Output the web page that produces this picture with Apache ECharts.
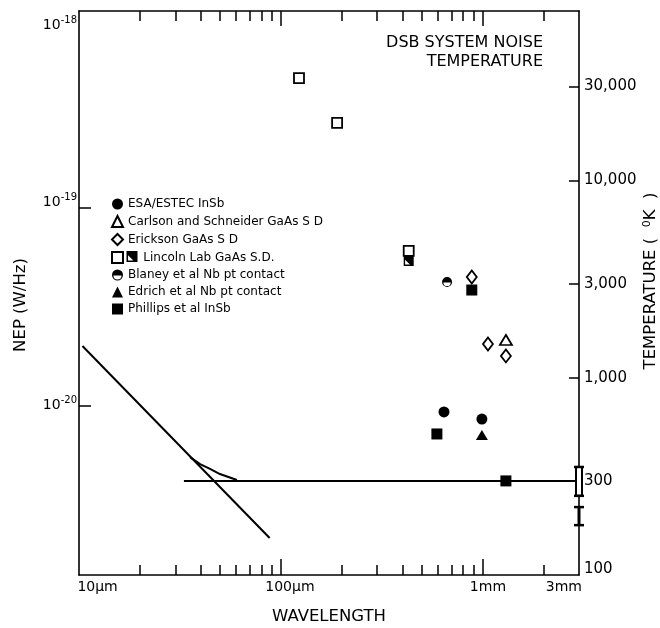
<!DOCTYPE html>
<html><head><meta charset="utf-8">
<script src="https://cdn.jsdelivr.net/npm/echarts@6/dist/echarts.min.js"></script>
<style>html,body{margin:0;padding:0;background:#fff}#c{width:660px;height:628px}</style>
</head><body><div id="c"></div>
<script>
// [wavelength (µm), DSB system noise temperature (K)]
const esa        = [[643, 671], [991, 618]];
const carlson    = [[1303, 1555]];
const erickson   = [[883, 3245], [1062, 1483], [1303, 1291]];
const lincolnOpen= [[123, 33100], [190, 19600], [430, 4400]];
const lincolnHalf= [[430, 3910]];
const blaney     = [[666, 3060]];
const edrich     = [[991, 513]];
const phillips   = [[593, 519], [883, 2787], [1303, 300]];
// curves [wavelength (µm), temperature (K)]
const quantumLimit = [[10.4, 1450], [88, 154]];
const floorLine    = [[33.1, 300], [3000, 300]];
const kneeCurve    = [[35.5, 396], [39.8, 365], [44.6, 345], [49.9, 325], [60.6, 303]];
// error bars at the right edge [wavelength, low K, high K, kind]
const errorBars  = [[3000, 252, 353, 0], [3000, 179, 221, 1]];
// axis ticks
const wlLabelValues = [10, 100, 1000, 3000];
const wlLabelText   = ['10\u03bcm', '100\u03bcm', '1mm', '3mm'];
const wlMajorTicks  = [100, 1000];
const wlMinorTicks  = [20, 30, 40, 50, 60, 70, 80, 90, 200, 300, 400, 500, 600, 700, 800, 900, 2000];
const nepTicks      = [-18, -19, -20];   // powers of ten, W/Hz
const tempTicks     = [100, 300, 1000, 3000, 10000, 30000];
const tempLabelText = ['100', '300', '1,000', '3,000', '10,000', '30,000'];

const L = Math.log10;
const FONT = 'DejaVu Sans';
const toLog = arr => arr.map(p => [L(p[0]), L(p[1])]);

// label placement tweaks (visual offsets, in log units)
const wlLabelPos = [L(wlLabelValues[0]) + 0.092, L(wlLabelValues[1]) + 0.045, L(wlLabelValues[2]) + 0.026, L(wlLabelValues[3]) - 0.075];
const tempLabelPos = tempTicks.map((v, i) => L(v) + (i === 0 ? 0.03 : 0));
const nepLabelPos = nepTicks.map(v => v === -18 ? v - 0.071 : (v === -19 ? v + 0.03 : v));
const nearest = (arr, v) => { let bi = 0; arr.forEach((a, i) => { if (Math.abs(a - v) < Math.abs(arr[bi] - v)) bi = i; }); return bi; };

const xmin = 1, xmax = L(3000);
const axisBase = { type: 'value', min: xmin, max: xmax, splitLine: { show: false } };
const black = '#000';

const halfCircle = 'path://M0,5 A5,5 0 1,1 10,5 A5,5 0 1,1 0,5 Z M1.3,5.4 A3.7,3.7 0 0,0 8.7,5.4 Z';
const halfSquare = 'path://M0,0 L10,0 L10,10 L0,10 Z M1.4,3.8 L1.4,8.6 L6.2,8.6 Z';

const openStyle = { color: '#fff', borderColor: black, borderWidth: 1.8, opacity: 1 };
const filledStyle = { color: black, opacity: 1 };

const names = {
  esa: 'ESA/ESTEC InSb',
  carlson: 'Carlson and Schneider GaAs S D',
  erickson: 'Erickson GaAs S D',
  lincoln: 'Lincoln Lab GaAs S.D.',
  lincolnHalf: 'Lincoln Lab GaAs S.D. (cooled)',
  blaney: 'Blaney et al Nb pt contact',
  edrich: 'Edrich et al Nb pt contact',
  phillips: 'Phillips et al InSb'
};

function lineSeries(name, data) {
  return { name, type: 'line', xAxisIndex: 0, yAxisIndex: 1, data: toLog(data), symbol: 'none',
    lineStyle: { color: black, width: 2 }, silent: true, z: 2 };
}
function scatter(name, data, symbol, size, style) {
  return { name, type: 'scatter', xAxisIndex: 0, yAxisIndex: 1, data: toLog(data), symbol, symbolSize: size,
    itemStyle: style, z: 5 };
}

const option = {
  animation: false,
  backgroundColor: '#fff',
  textStyle: { fontFamily: FONT, color: black },
  title: { text: 'DSB SYSTEM NOISE\nTEMPERATURE', left: 543, top: 33, textAlign: 'right', padding: 0,
    textStyle: { fontFamily: FONT, fontSize: 16, fontWeight: 'normal', color: black, lineHeight: 19 } },
  grid: { left: 79, right: 81, top: 11, bottom: 53, containLabel: false, outerBoundsMode: 'none' },
  legend: [{
    orient: 'vertical', left: 106, top: 193, itemWidth: 11, itemHeight: 11, itemGap: 5, selectedMode: false,
    data: [names.esa, names.carlson, names.erickson, names.lincoln, names.blaney, names.edrich, names.phillips],
    formatter: n => n === names.lincoln ? '    ' + n : n,
    textStyle: { fontFamily: FONT, fontSize: 12, color: black, lineHeight: 12 }
  }, {
    orient: 'vertical', left: 121.5, top: 246, itemWidth: 11, itemHeight: 11, selectedMode: false,
    data: [names.lincolnHalf], formatter: () => '',
    textStyle: { fontSize: 11 }
  }],
  xAxis: [
    Object.assign({}, axisBase, { position: 'bottom',
      axisLine: { show: true, lineStyle: { color: black, width: 1.6 } },
      axisTick: { show: true, inside: true, length: 16, customValues: wlMajorTicks.map(L), lineStyle: { color: black, width: 1.5 } },
      axisLabel: { show: true, customValues: wlLabelPos, color: black, fontFamily: FONT, fontSize: 14, margin: 5,
        formatter: v => wlLabelText[nearest(wlLabelPos, v)] },
      name: 'WAVELENGTH', nameLocation: 'middle', nameGap: 33, nameMoveOverlap: false,
      nameTextStyle: { fontFamily: FONT, fontSize: 16.5, color: black } }),
    Object.assign({}, axisBase, { position: 'bottom', axisLine: { show: false },
      axisTick: { show: true, inside: true, length: 10, customValues: wlMinorTicks.map(L), lineStyle: { color: black, width: 1.5 } },
      axisLabel: { show: false } }),
    Object.assign({}, axisBase, { position: 'top',
      axisLine: { show: true, lineStyle: { color: black, width: 1.6 } },
      axisTick: { show: true, inside: true, length: 15, customValues: wlMajorTicks.map(L), lineStyle: { color: black, width: 1.5 } },
      axisLabel: { show: false } }),
    Object.assign({}, axisBase, { position: 'top', axisLine: { show: false },
      axisTick: { show: true, inside: true, length: 10, customValues: wlMinorTicks.map(L), lineStyle: { color: black, width: 1.5 } },
      axisLabel: { show: false } })
  ],
  yAxis: [
    { type: 'value', position: 'left', min: -20.86, max: -18, splitLine: { show: false },
      axisLine: { show: true, lineStyle: { color: black, width: 1.6 } },
      axisTick: { show: true, inside: true, length: 12, customValues: [-19, -20], lineStyle: { color: black, width: 1.5 } },
      axisLabel: { show: true, customValues: nepLabelPos, margin: 2,
        formatter: v => '{b|10}{s|' + nepTicks[nearest(nepLabelPos, v)] + '}',
        rich: { b: { fontFamily: FONT, fontSize: 14, lineHeight: 20, color: black },
                s: { fontFamily: FONT, fontSize: 10, lineHeight: 10, verticalAlign: 'top', color: black } } },
      name: 'NEP (W/Hz)', nameLocation: 'middle', nameRotate: 90, nameGap: 50, nameMoveOverlap: false,
      nameTextStyle: { fontFamily: FONT, fontSize: 16.5, color: black, padding: [0, 24, 0, 0] } },
    { type: 'value', position: 'right', min: 2, max: 4.86, splitLine: { show: false },
      axisLine: { show: true, lineStyle: { color: black, width: 1.6 } },
      axisTick: { show: true, inside: true, length: 10, customValues: tempTicks.slice(1).map(L), lineStyle: { color: black, width: 1.5 } },
      axisLabel: { show: true, customValues: tempLabelPos, margin: 5, color: black, fontFamily: FONT, fontSize: 15,
        formatter: v => tempLabelText[nearest(tempLabelPos, v)] },
      name: 'TEMPERATURE (  {s|0}K  )', nameLocation: 'middle', nameRotate: 90, nameGap: 63, nameMoveOverlap: false,
      nameTextStyle: { fontFamily: FONT, fontSize: 16.5, color: black, padding: [0, 0, 0, 24],
        rich: { s: { fontFamily: FONT, fontSize: 11, verticalAlign: 'top', lineHeight: 11, color: black } } } }
  ],
  series: [
    lineSeries('Quantum limit', quantumLimit),
    lineSeries('Mixer floor', floorLine),
    lineSeries('Knee', kneeCurve),
    scatter(names.esa, esa, 'circle', 11, filledStyle),
    scatter(names.carlson, carlson, 'triangle', [12, 10], openStyle),
    scatter(names.erickson, erickson, 'diamond', [10, 13], openStyle),
    scatter(names.lincoln, lincolnOpen, 'rect', 10, openStyle),
    scatter(names.lincolnHalf, lincolnHalf, halfSquare, 10, filledStyle),
    scatter(names.blaney, blaney, halfCircle, 10, filledStyle),
    scatter(names.edrich, edrich, 'triangle', [12, 10], filledStyle),
    scatter(names.phillips, phillips, 'rect', 11, filledStyle),
    {
      name: 'Error bars', type: 'custom', xAxisIndex: 0, yAxisIndex: 1, z: 6, silent: true,
      data: errorBars.map(e => [L(e[0]), L(e[1]), L(e[2]), e[3]]),
      renderItem: (params, api) => {
        const lo = api.coord([api.value(0), api.value(1)]);
        const hi = api.coord([api.value(0), api.value(2)]);
        const x = lo[0], kind = api.value(3);
        const children = [];
        if (kind === 0) {
          children.push({ type: 'rect', shape: { x: x - 3, y: hi[1], width: 6, height: lo[1] - hi[1] },
            style: { fill: '#fff', stroke: black, lineWidth: 2 } });
        } else {
          children.push({ type: 'line', shape: { x1: x, y1: hi[1], x2: x, y2: lo[1] }, style: { stroke: black, lineWidth: 3 } });
        }
        children.push({ type: 'line', shape: { x1: x - 5, y1: hi[1], x2: x + 5, y2: hi[1] }, style: { stroke: black, lineWidth: 2.5 } });
        children.push({ type: 'line', shape: { x1: x - 5, y1: lo[1], x2: x + 5, y2: lo[1] }, style: { stroke: black, lineWidth: 2.5 } });
        return { type: 'group', children };
      }
    }
  ]
};
const chart = echarts.init(document.getElementById('c'), null, { renderer: 'canvas' });
chart.setOption(option);
</script></body></html>
